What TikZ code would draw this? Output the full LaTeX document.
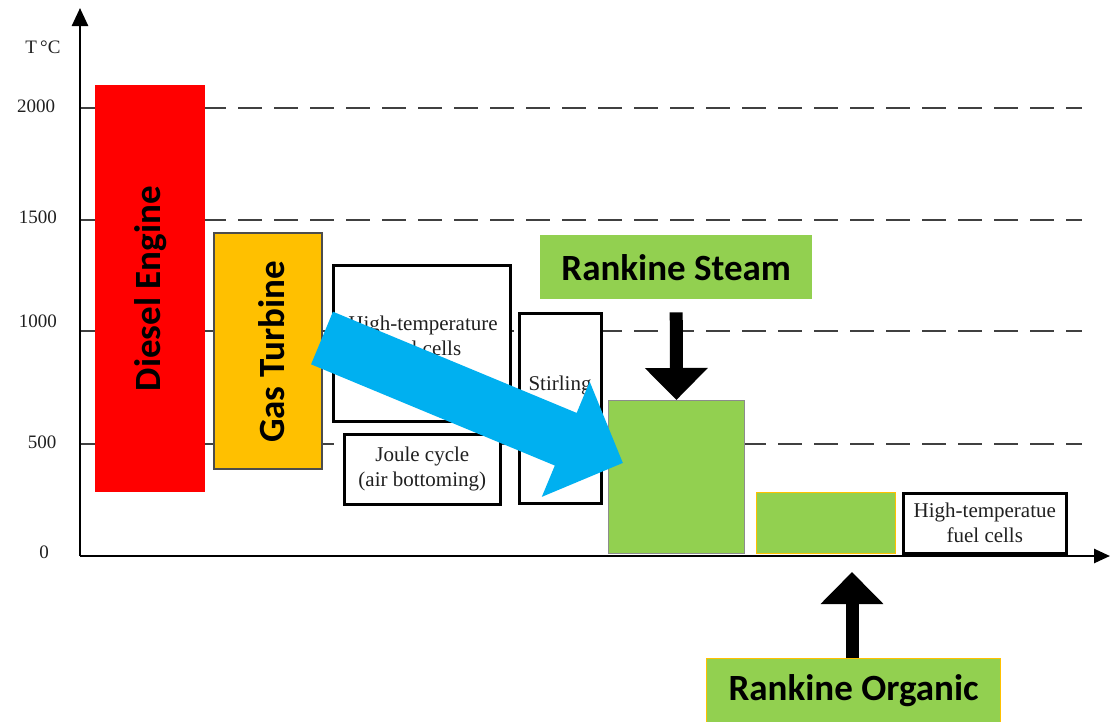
\documentclass[tikz,border=0pt]{standalone}
\usepackage{fontspec}
\setmainfont{Liberation Serif}
\newfontfamily\calib{Carlito}
\usetikzlibrary{arrows.meta}
\definecolor{cRed}{HTML}{FF0000}
\definecolor{cOrange}{HTML}{FFC000}
\definecolor{cGreen}{HTML}{92D050}
\definecolor{cBlue}{HTML}{00B0F0}
\definecolor{cText}{HTML}{202020}
\begin{document}
\begin{tikzpicture}[x=1pt,y=-1pt,
  axisline/.style={line width=2.6pt,black},
  gridline/.style={line width=1.3pt,black!75,dash pattern=on 24pt off 12pt},
  tickline/.style={line width=1.3pt,black!75},
  ticklab/.style={font=\fontsize{19}{21}\selectfont,text=cText,inner sep=0pt},
  wbox/.style={draw=black,line width=2.6pt,fill=white,anchor=north west,inner sep=0pt},
  serif/.style={font=\fontsize{21}{25}\selectfont,text=cText,align=center,inner sep=0pt},
  bigbox/.style={anchor=north west,inner sep=0pt},
  boldlab/.style={font=\calib\bfseries\fontsize{37}{42}\selectfont,text=black,inner sep=0pt},
  blackarrow/.style={line width=13pt,black,-{Triangle[width=61pt,length=32pt]}},
  bluearrow/.style={line width=57pt,cBlue,-{Triangle[width=121pt,length=62pt]}}
]
\useasboundingbox (0,0) rectangle (1111,721);
% grid
\foreach \yy in {108,220,331,444}{
  \draw[tickline] (80,\yy) -- (94,\yy);
  \draw[gridline] (94,\yy) -- (1082,\yy);
}
% axes
\coordinate (origin) at (80,556);
\coordinate (ytop) at (80,8);
\coordinate (xend) at (1110,556);
\draw[axisline,-{Triangle[width=16pt,length=18pt]}] (origin) -- (ytop);
\draw[axisline,-{Triangle[width=14pt,length=16pt]}] (origin) -- (xend);
% axis labels
\node[ticklab] (tlab) at (43,47) {T\,°C};
\node[ticklab] (l2000) at (36,106) {2000};
\node[ticklab] (l1500) at (38,217) {1500};
\node[ticklab] (l1000) at (38,321) {1000};
\node[ticklab] (l500) at (42,442) {500};
\node[ticklab] (l0) at (44,552) {0};
% diesel
\node[bigbox,fill=cRed,minimum width=110pt,minimum height=407pt] (diesel) at (95,85) {};
\node[boldlab,rotate=90] (dieseltxt) at (diesel.center) {Diesel Engine};
% gas turbine
\node[bigbox,fill=cOrange,draw=black!70,line width=1.6pt,minimum width=108pt,minimum height=236pt] (gas) at (213,232) {};
\node[boldlab,rotate=90] (gastxt) at (272,352) {Gas Turbine};
% white boxes
\node[wbox,minimum width=177pt,minimum height=156pt] (htfc) at (332,264) {};
\node[serif] (htfctxt) at (423,336) {High-temperature\\fuel cells};
\node[wbox,minimum width=156pt,minimum height=70pt] (joule) at (343,433) {};
\node[serif] (jouletxt) at (joule.center) {Joule cycle\\(air bottoming)};
\node[wbox,minimum width=82pt,minimum height=190pt] (stir) at (518,312) {};
\node[serif] (stirtxt) at (560,385) {Stirling};
\node[wbox,minimum width=163pt,minimum height=60pt] (htfc2) at (902,492) {};
\node[serif] (htfc2txt) at (htfc2.center) {High-temperatue\\fuel cells};
% green blocks
\node[bigbox,fill=cGreen,draw=black!45,line width=0.8pt,minimum width=136pt,minimum height=153pt] (rsblock) at (608,400) {};
\node[bigbox,fill=cGreen,draw=cOrange,line width=1.2pt,minimum width=139pt,minimum height=61pt] (roblock) at (756,492) {};
% label boxes
\node[bigbox,fill=cGreen,minimum width=272pt,minimum height=64pt] (rs) at (540,235) {};
\node[boldlab] (rstxt) at (rs.center) {Rankine Steam};
\node[bigbox,fill=cGreen,draw=cOrange,line width=1.2pt,minimum width=294pt,minimum height=66pt] (ro) at (706,658) {};
\node[boldlab] (rotxt) at ([yshift=1pt]ro.center) {Rankine Organic};
% arrows
\draw[blackarrow,shorten <=13pt] (rs.south) -- (rsblock.north);
\coordinate (uptip) at (852,572);
\draw[blackarrow] (ro.north -| uptip) -- (uptip);
\coordinate (bstart) at (322,338);
\coordinate (btip) at (623,463);
\draw[bluearrow] (bstart) -- (btip);
\end{tikzpicture}
\end{document}
